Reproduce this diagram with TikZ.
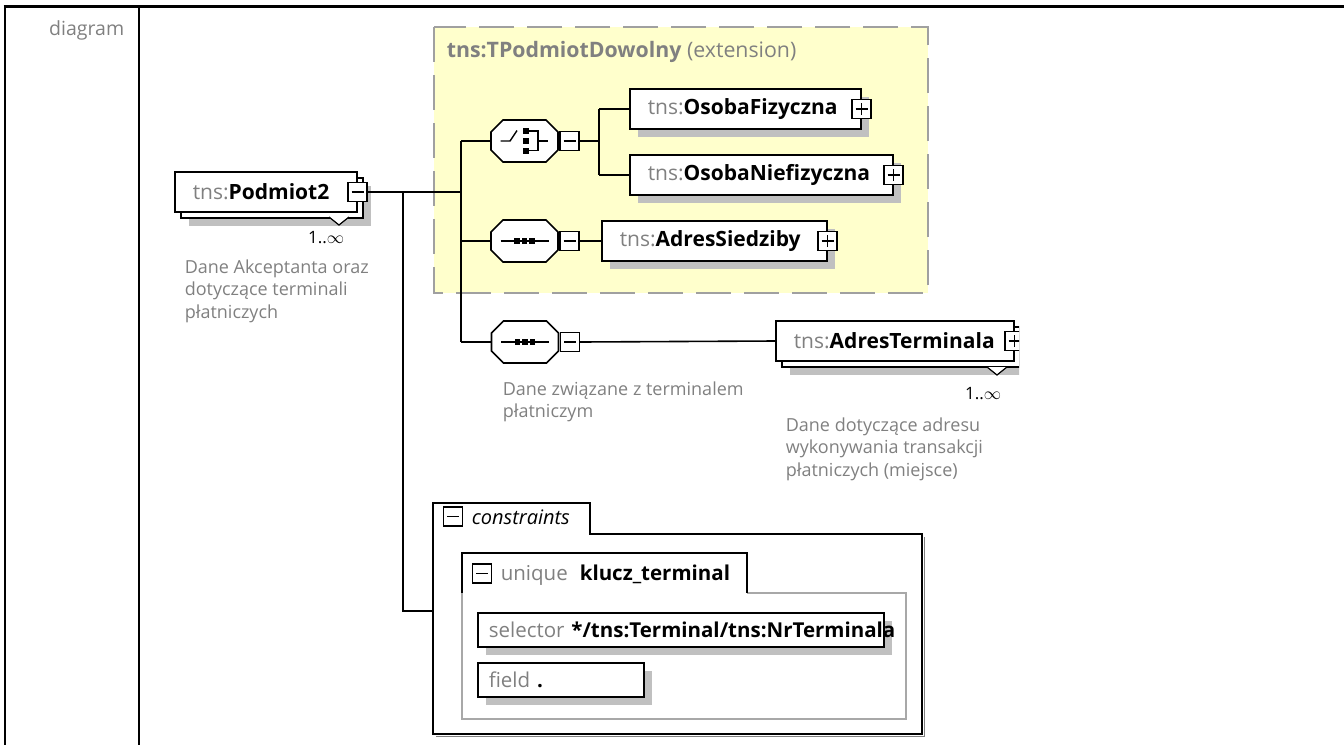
\documentclass[tikz,border=0pt]{standalone}
\usepackage{fontspec}
\setmainfont{Open Sans}
\usetikzlibrary{shadows}

\definecolor{prefgray}{RGB}{128,128,128}
\definecolor{docgray}{RGB}{128,128,128}
\definecolor{shadegray}{RGB}{192,192,192}
\definecolor{extfill}{RGB}{255,255,204}
\definecolor{extline}{RGB}{160,160,160}
\definecolor{framegray}{RGB}{168,168,168}

\newcommand{\nm}[1]{\textcolor{prefgray}{tns:}\textbf{#1}}

\begin{document}
\begin{tikzpicture}[x=1pt,y=-1pt,line width=1.6pt,
  elem/.style={draw,fill=white,anchor=west,minimum height=40pt,inner xsep=18pt,inner ysep=0pt,
    align=left,font=\fontsize{21}{24}\selectfont,
    drop shadow={shadow xshift=8pt,shadow yshift=-8pt,fill=shadegray,opacity=1}},
  elems/.style={draw,fill=white,anchor=west,minimum height=40pt,inner xsep=18pt,inner ysep=0pt,
    align=left,font=\fontsize{21}{24}\selectfont,
    drop shadow={shadow xshift=14pt,shadow yshift=-14pt,fill=shadegray,opacity=1},
    copy shadow={shadow xshift=6pt,shadow yshift=-6pt}},
  compo/.style={rectangle,minimum width=67pt,minimum height=42pt,inner sep=0pt},
  minusbox/.style={draw,fill=white,minimum size=19pt,inner sep=0pt,line width=1.3pt,
    path picture={\draw[line width=1.3pt] ([xshift=-6pt]path picture bounding box.center)
      -- ([xshift=6pt]path picture bounding box.center);}},
  plusbox/.style={draw,fill=white,minimum size=19pt,inner sep=0pt,line width=1.3pt,
    path picture={\draw[line width=1.3pt] ([xshift=-6pt]path picture bounding box.center)
      -- ([xshift=6pt]path picture bounding box.center)
      ([yshift=-6pt]path picture bounding box.center) -- ([yshift=6pt]path picture bounding box.center);}},
  cbox/.style={draw,fill=white,anchor=west,minimum height=34pt,inner xsep=11pt,inner ysep=0pt,
    align=left,font=\fontsize{20.5}{24}\selectfont,
    drop shadow={shadow xshift=8pt,shadow yshift=-8pt,fill=shadegray,opacity=1}},
  doc/.style={anchor=north west,align=left,inner sep=0pt,text=docgray,font=\fontsize{18}{22.5}\selectfont},
  occ/.style={anchor=east,inner sep=0pt,font=\fontsize{17}{20}\selectfont},
]
\useasboundingbox (0,0) rectangle (1344,745);

% frame
\draw[line width=3pt] (3.5,6) -- (1344,6);
\draw[line width=2pt] (5,6) -- (5,745) (139,6) -- (139,745);
\node[anchor=base east,inner sep=0pt,text=prefgray,font=\fontsize{19.5}{22}\selectfont] (lbl) at (125,35) {diagram};

% extension
\draw[extline,line width=1.8pt,dash pattern=on 35pt off 13pt,fill=extfill] (434,27) rectangle (928,293);
\node[anchor=west,inner sep=0pt,text=prefgray,font=\fontsize{21.3}{24}\selectfont] (ttl) at (446,52)
  {\textbf{tns:TPodmiotDowolny} (extension)};

\node[elems,text width=146pt] (pod) at (174,192) {\nm{Podmiot2}};
\node[minusbox] (podx) at (pod.east) {};
\draw[line width=1.2pt,fill=white] (329,217) -- (339,225) -- (349,217);
\node[occ] (podo) at (345,238) {1..$\infty$};
\node[doc] (podd) at (184,259) {Dane Akceptanta oraz\\dotyczące terminali\\płatniczych};

\node[compo] (cho) at (524.5,141) {};
\node[compo] (sq1) at (524.5,241) {};
\node[compo] (sq2) at (525,342) {};
\foreach \s in {cho,sq1,sq2} {
  \fill[shadegray,shift={(8pt,-8pt)}] ([shift={(-33.5pt,9pt)}]\s.center) -- ([shift={(-21.5pt,21pt)}]\s.center)
    -- ([shift={(21.5pt,21pt)}]\s.center) -- ([shift={(33.5pt,9pt)}]\s.center)
    -- ([shift={(33.5pt,-9pt)}]\s.center) -- ([shift={(21.5pt,-21pt)}]\s.center)
    -- ([shift={(-21.5pt,-21pt)}]\s.center) -- ([shift={(-33.5pt,-9pt)}]\s.center) -- cycle;
  \draw[fill=white] ([shift={(-33.5pt,9pt)}]\s.center) -- ([shift={(-21.5pt,21pt)}]\s.center)
    -- ([shift={(21.5pt,21pt)}]\s.center) -- ([shift={(33.5pt,9pt)}]\s.center)
    -- ([shift={(33.5pt,-9pt)}]\s.center) -- ([shift={(21.5pt,-21pt)}]\s.center)
    -- ([shift={(-21.5pt,-21pt)}]\s.center) -- ([shift={(-33.5pt,-9pt)}]\s.center) -- cycle;
}
\node[minusbox] (chox) at (569.5,141) {};
\node[minusbox] (sq1x) at (569.5,241) {};
\node[minusbox] (sq2x) at (570,342) {};
\node[doc] (sq2d) at (502,381) {Dane związane z terminalem\\płatniczym};

% compositor marks
\draw[line width=1.4pt] ([xshift=-24pt]cho.center) -- ([xshift=-14.5pt]cho.center)
  -- ([xshift=-7.5pt,yshift=10.5pt]cho.center);
\foreach \dy in {10,0,-9.5}
  \fill ([xshift=1pt,yshift=\dy pt]cho.center) +(-3pt,-3pt) rectangle +(3pt,3pt);
\draw[line width=1.4pt] ([xshift=4pt,yshift=10pt]cho.center) -- ([xshift=13.5pt,yshift=10pt]cho.center)
  -- ([xshift=13.5pt,yshift=-9.5pt]cho.center) -- ([xshift=4pt,yshift=-9.5pt]cho.center)
  ([xshift=13.5pt]cho.center) -- ([xshift=23.5pt]cho.center);
\foreach \s in {sq1,sq2} {
  \draw[line width=1.4pt] ([xshift=-24pt]\s.center) -- ([xshift=24pt]\s.center);
  \foreach \dx in {-7.5,0,7.5}
    \fill ([xshift=\dx pt]\s.center) +(-2.8pt,-2.8pt) rectangle +(2.8pt,2.8pt);
}

\node[elem,text width=195pt] (osf) at (629,109) {\nm{OsobaFizyczna}};
\node[plusbox] (osfx) at (osf.east) {};
\node[elem,text width=227pt] (osn) at (629,175) {\nm{OsobaNiefizyczna}};
\node[plusbox] (osnx) at (osn.east) {};
\node[elem,text width=189pt] (ads) at (601,241) {\nm{AdresSiedziby}};
\node[plusbox] (adsx) at (ads.east) {};

\begin{scope}
\clip (0,0) rectangle (1019,745);
\node[elems,text width=202pt] (adt) at (775,341) {\nm{AdresTerminala}};
\node[plusbox] (adtx) at (adt.east) {};
\end{scope}
\draw[line width=1.2pt,fill=white] (987,367) -- (997,375) -- (1007,367);
\node[occ] (adto) at (1002,394) {1..$\infty$};
\node[doc] (adtd) at (785,417) {Dane dotyczące adresu\\wykonywania transakcji\\płatniczych (miejsce)};

% links
\coordinate (j1) at (403,192);
\coordinate (j2) at (461,192);
\coordinate (t1) at (461,141);
\coordinate (t2) at (461,241);
\coordinate (t3) at (461,342);
\coordinate (c0) at (599,109);
\coordinate (c1) at (599,141);
\coordinate (c2) at (599,175);
\coordinate (j3) at (403,611);
\coordinate (cin) at (433,611);

\draw (podx.east) -- (j2);
\draw (t1) -- (t3);
\draw (t1) -- (cho.west);
\draw (t2) -- (sq1.west);
\draw (t3) -- (sq2.west);
\draw (chox.east) -- (c1);
\draw (c0) -- (c2);
\draw (c0) -- (osf.west);
\draw (c2) -- (osn.west);
\draw (sq1x.east) -- (ads.west);
\draw (sq2x.east) -- (adt.west);
\draw (j1) -- (j3) -- (cin);

% constraints
\draw[gray,line width=1.2pt] (436,736.5) -- (924.5,736.5) -- (924.5,537);
\draw[fill=white] (433,503) -- (590,503) -- (590,534) -- (922,534) -- (922,734) -- (433,734) -- cycle;
\node[minusbox,fill=none] (cnsx) at (453,516.5) {};
\node[anchor=west,inner sep=0pt,font=\fontsize{20}{24}\selectfont\itshape] (cns) at (471,517) {constraints};

\draw[framegray] (747,593) -- (906,593) -- (906,719) -- (462,719) -- (462,593);
\draw (462,593) -- (462,553) -- (747,553) -- (747,593);
\node[minusbox,fill=none] (uqx) at (482,573.5) {};
\node[anchor=west,inner sep=0pt,font=\fontsize{20.5}{24}\selectfont] (uq) at (500,575)
  {\textcolor{prefgray}{unique}\hspace{12pt}\textbf{klucz\_terminal}};

\node[cbox,text width=384pt] (sel) at (477,630)
  {\mbox{\textcolor{prefgray}{selector} \textbf{*/tns:Terminal/tns:NrTerminala}}};
\node[cbox,text width=144pt] (fld) at (477,680) {\mbox{\textcolor{prefgray}{field} \textbf{.}}};

\end{tikzpicture}
\end{document}
